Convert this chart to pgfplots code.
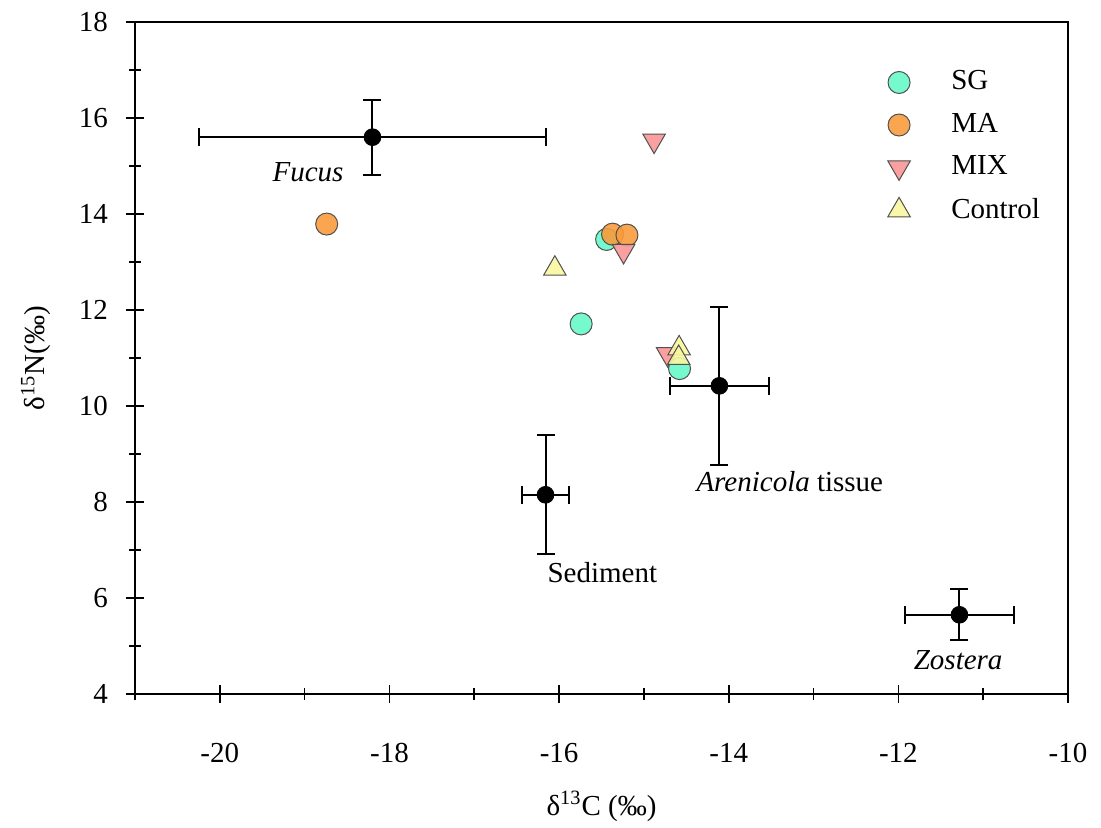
\documentclass[border=0pt]{standalone}
\usepackage{fontspec}
\setmainfont{Liberation Serif}
\usepackage{pgfplots}
\pgfplotsset{compat=1.18}
\definecolor{sg}{RGB}{102,248,200}
\definecolor{ma}{RGB}{250,155,60}
\definecolor{mix}{RGB}{250,150,150}
\definecolor{ctl}{RGB}{250,246,160}
\definecolor{edge}{RGB}{80,80,80}
\begin{document}
\fontsize{14.5}{17}\selectfont
\begin{tikzpicture}
\begin{axis}[
  scale only axis, width=466.5pt, height=336pt,
  at={(0,0)}, anchor=south west,
  xmin=-21, xmax=-10, ymin=4, ymax=18,
  xtick={-20,-18,...,-10}, ytick={4,6,...,18},
  minor xtick={-21,-19,...,-11}, minor ytick={5,7,...,17},
  tick pos=left, tick align=center,
  major tick length=9pt, minor tick length=6pt,
  axis line style={line width=0.8pt, black},
  every tick/.style={line width=0.8pt, black},
  /pgf/number format/assume math mode=true,
  ticklabel style={font=\fontsize{14.5}{17}\selectfont},
  xticklabel style={yshift=-15pt},
  yticklabel style={xshift=-4pt},
  xlabel={δ\textsuperscript{13}C (‰)},
  ylabel={δ\textsuperscript{15}N(‰)},
  every axis x label/.style={at={(axis description cs:0.5,-0.167)}, anchor=center},
  every axis y label/.style={at={(axis description cs:-0.106,0.5)}, anchor=center, rotate=90},
  label style={font=\fontsize{14.5}{17}\selectfont},
  legend style={at={(axis description cs:0.80,0.94)}, anchor=north west, draw=none, fill=none,
    font=\fontsize{14.5}{17}\selectfont, row sep=5.5pt,
    /tikz/every odd column/.append style={column sep=18.5pt}},
  legend cell align=left,
]
% sources with error bars
\addplot+[forget plot, only marks, mark=*, black, mark size=4.2pt,
  mark options={fill=black, draw=black},
  error bars/.cd, x dir=both, x explicit, y dir=both, y explicit,
  error bar style={line width=1pt, black},
  error mark options={rotate=90, black, mark size=4.5pt, line width=1pt}]
  coordinates {
    (-18.20,15.60) +- (2.05,0.78)
    (-14.11,10.42) +- (0.58,1.64)
    (-16.16,8.15) +- (0.28,1.24)
    (-11.28,5.65) +- (0.645,0.53)
  };
% SG
\addplot[only marks, mark=*, mark size=5.5pt,
  mark options={fill=sg, draw=edge, line width=0.5pt, fill opacity=0.9}]
  coordinates {(-15.74,11.71) (-15.44,13.47) (-14.58,10.78)};
\addlegendentry{SG}
% MA
\addplot[only marks, mark=*, mark size=5.5pt,
  mark options={fill=ma, draw=edge, line width=0.5pt, fill opacity=0.9}]
  coordinates {(-18.74,13.79) (-15.37,13.58) (-15.20,13.56)};
\addlegendentry{MA}
% MIX
\addplot[only marks, mark=triangle*, mark size=6.5pt,
  mark options={rotate=180, fill=mix, draw=edge, line width=0.5pt, fill opacity=0.9}]
  coordinates {(-14.88,15.53) (-15.24,13.23) (-14.72,11.08)};
\addlegendentry{MIX}
% Control
\addplot[only marks, mark=triangle*, mark size=6.5pt,
  mark options={fill=ctl, draw=edge, line width=0.5pt, fill opacity=0.9}]
  coordinates {(-16.05,12.86) (-14.585,11.20) (-14.59,11.00)};
\addlegendentry{Control}
\node[font=\itshape] at (axis cs:-18.96,14.875) {Fucus};
\node at (axis cs:-13.28,8.42) {\textit{Arenicola} tissue};
\node at (axis cs:-15.49,6.52) {Sediment};
\node[font=\itshape] at (axis cs:-11.295,4.71) {Zostera};
\end{axis}
\pgfresetboundingbox
\path[use as bounding box] (-67.5pt,-67pt) rectangle (483pt,347pt);
\end{tikzpicture}
\end{document}
